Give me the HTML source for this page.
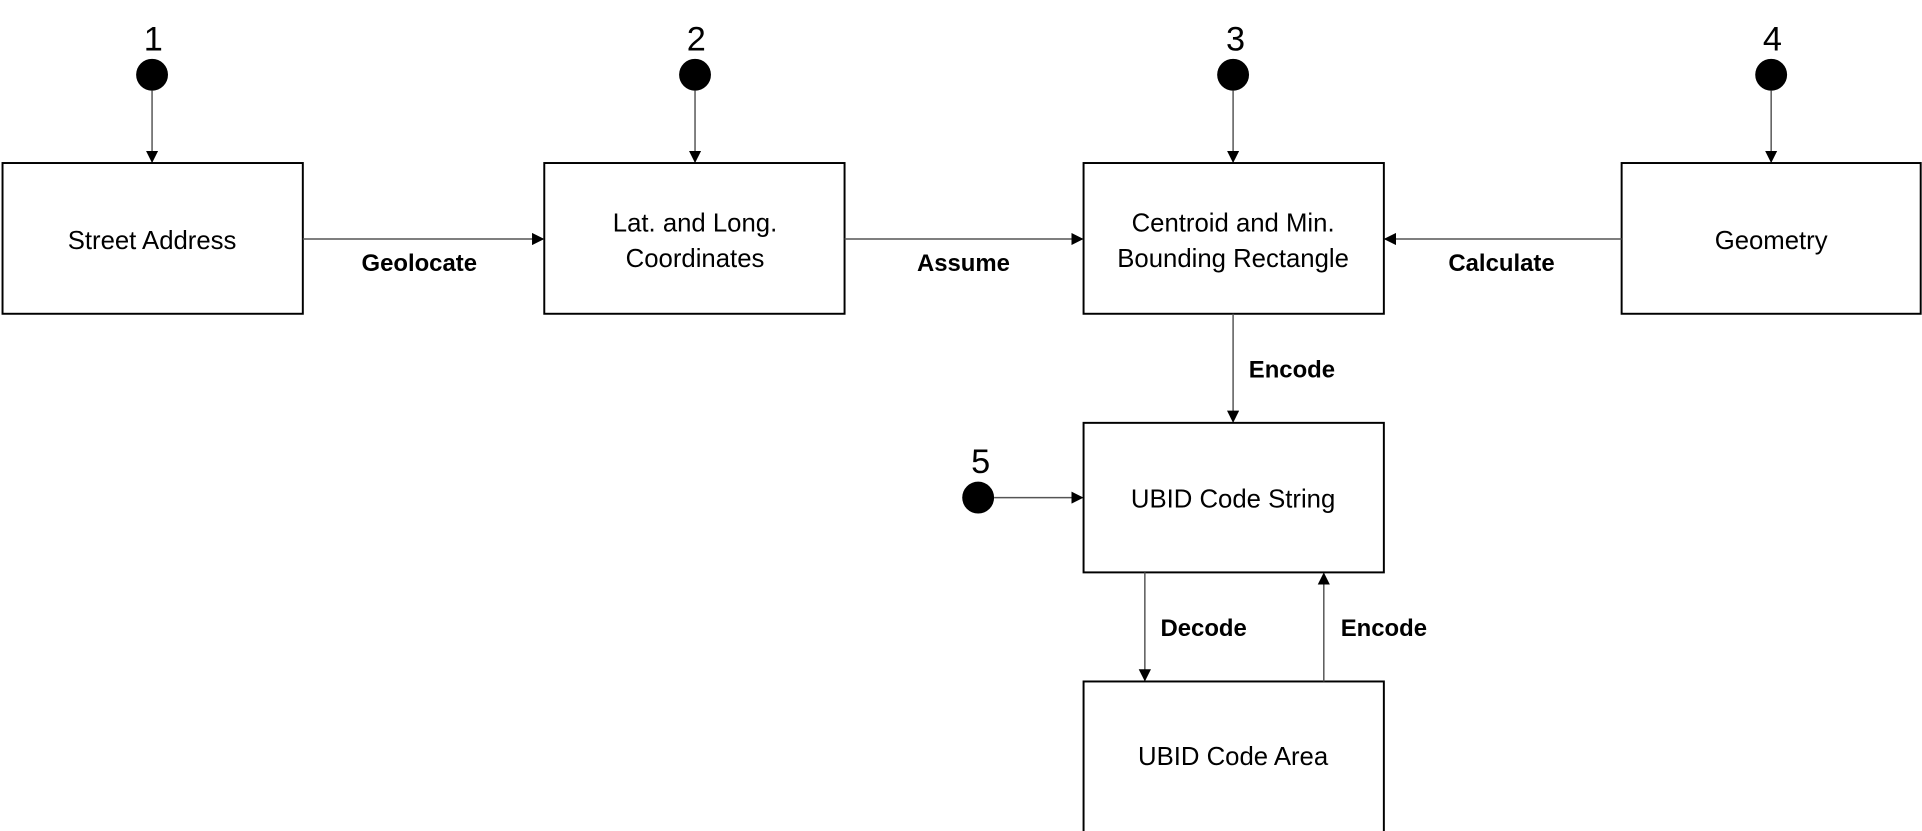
<!DOCTYPE html>
<html><head><meta charset="utf-8"><style>
html,body{margin:0;padding:0;background:#fff;width:1922px;height:831px;overflow:hidden}
svg{display:block}
.b{fill:#fff;stroke:#000;stroke-width:1.6}
.t{font-family:"Liberation Sans",sans-serif;font-size:21px;text-anchor:middle;fill:#000}
.l{font-family:"Liberation Sans",sans-serif;font-size:19.5px;font-weight:bold;text-anchor:middle;fill:#000}
.n{font-family:"Liberation Sans",sans-serif;font-size:28px;text-anchor:middle;fill:#000}
.c{stroke:#555;stroke-width:1.2;fill:none}
</style></head><body>
<svg width="1922" height="831" viewBox="0 0 1568 678">
<defs><marker id="a" markerWidth="10" markerHeight="10" refX="9" refY="5" orient="auto" markerUnits="userSpaceOnUse"><path d="M0,0 L10,5 L0,10 Z" fill="#000"/></marker></defs>
<rect class="b" x="2" y="133" width="245" height="123"/>
<rect class="b" x="444" y="133" width="245" height="123"/>
<rect class="b" x="884" y="133" width="245" height="123"/>
<rect class="b" x="1323" y="133" width="244" height="123"/>
<rect class="b" x="884" y="345" width="245" height="122"/>
<rect class="b" x="884" y="556" width="245" height="130"/>
<text class="t" x="124" y="203">Street Address</text>
<text class="t" x="567" y="189">Lat. and Long.</text>
<text class="t" x="567" y="218">Coordinates</text>
<text class="t" x="1006" y="189">Centroid and Min.</text>
<text class="t" x="1006" y="218">Bounding Rectangle</text>
<text class="t" x="1445" y="203">Geometry</text>
<text class="t" x="1006" y="414">UBID Code String</text>
<text class="t" x="1006" y="624">UBID Code Area</text>
<g fill="#000"><circle cx="124" cy="61" r="13"/><circle cx="567" cy="61" r="13"/><circle cx="1006" cy="61" r="13"/><circle cx="1445" cy="61" r="13"/><circle cx="798" cy="406" r="13"/></g>
<text class="n" x="125" y="41">1</text><text class="n" x="568" y="41">2</text><text class="n" x="1008" y="41">3</text><text class="n" x="1446" y="41">4</text><text class="n" x="800" y="386">5</text>
<line class="c" x1="124" y1="74" x2="124" y2="132" marker-end="url(#a)"/>
<line class="c" x1="567" y1="74" x2="567" y2="132" marker-end="url(#a)"/>
<line class="c" x1="1006" y1="74" x2="1006" y2="132" marker-end="url(#a)"/>
<line class="c" x1="1445" y1="74" x2="1445" y2="132" marker-end="url(#a)"/>
<line class="c" x1="811" y1="406" x2="883" y2="406" marker-end="url(#a)"/>
<line class="c" x1="247" y1="195" x2="443" y2="195" marker-end="url(#a)"/>
<line class="c" x1="689" y1="195" x2="883" y2="195" marker-end="url(#a)"/>
<line class="c" x1="1323" y1="195" x2="1130" y2="195" marker-end="url(#a)"/>
<line class="c" x1="1006" y1="256" x2="1006" y2="344" marker-end="url(#a)"/>
<line class="c" x1="934" y1="467" x2="934" y2="555" marker-end="url(#a)"/>
<line class="c" x1="1080" y1="556" x2="1080" y2="468" marker-end="url(#a)"/>
<text class="l" x="342" y="221">Geolocate</text>
<text class="l" x="786" y="221">Assume</text>
<text class="l" x="1225" y="221">Calculate</text>
<text class="l" x="1054" y="308">Encode</text>
<text class="l" x="982" y="519">Decode</text>
<text class="l" x="1129" y="519">Encode</text>
</svg>
</body></html>
